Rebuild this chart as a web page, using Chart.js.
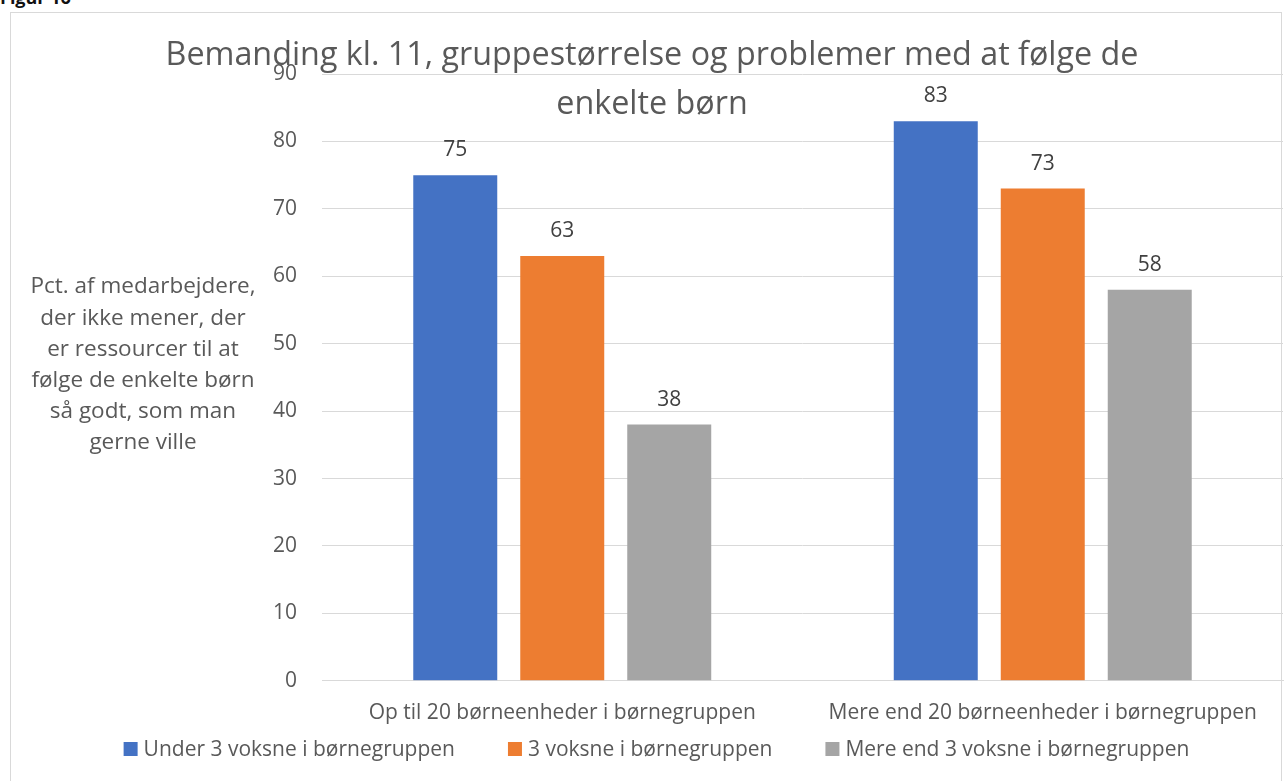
<!DOCTYPE html>
<html lang="da">
<head>
<meta charset="utf-8">
<title>Figur 16</title>
<script src="https://cdn.jsdelivr.net/npm/chart.js@4"></script>
<style>
  html, body { margin: 0; padding: 0; background: #fff; overflow: hidden; }
  body { width: 1285px; height: 781px; position: relative; font-family: "Open Sans", sans-serif; }
  #fig-label { position: absolute; left: 0; top: -15px; font: bold 18px "Open Sans", sans-serif; color: #111; }
  #frame { position: absolute; left: 10px; top: 12px; width: 1272px; height: 790px; border: 1px solid #d9d9d9; box-sizing: border-box; }
  #chart { position: absolute; left: 0; top: 0; }
</style>
</head>
<body>
<div id="fig-label">Figur 16</div>
<div id="frame"></div>
<canvas id="chart" width="1285" height="781"></canvas>
<script>
// Data
const categories = ['Op til 20 børneenheder i børnegruppen', 'Mere end 20 børneenheder i børnegruppen'];
const seriesNames = ['Under 3 voksne i børnegruppen', '3 voksne i børnegruppen', 'Mere end 3 voksne i børnegruppen'];
const under3 = [75, 83];
const exactly3 = [63, 73];
const over3 = [38, 58];
const seriesColors = ['#4472c4', '#ed7d31', '#a5a5a5'];
const titleLines = ['Bemanding kl. 11, gruppestørrelse og problemer med at følge de', 'enkelte børn'];
const yTitleLines = ['Pct. af medarbejdere,', 'der ikke mener, der', 'er ressourcer til at', 'følge de enkelte børn', 'så godt, som man', 'gerne ville'];

const textColor = '#595959';
const fontFamily = '"Open Sans", sans-serif';
const smallFont = '21px ' + fontFamily;

// Labels above each bar
const barLabels = {
    id: 'barLabels',
    afterDatasetsDraw(chart) {
        const c = chart.ctx;
        c.save();
        c.font = smallFont;
        c.fillStyle = '#404040';
        c.textAlign = 'center';
        c.textBaseline = 'middle';
        chart.data.datasets.forEach((ds, i) => {
            chart.getDatasetMeta(i).data.forEach((bar, j) => {
                c.fillText(ds.data[j], bar.x, bar.y - 25);
            });
        });
        c.restore();
    }
};

// Title, horizontal y-axis title and the legend row, placed like the original
const extraText = {
    id: 'extraText',
    afterDraw(chart) {
        const c = chart.ctx;
        c.save();
        c.fillStyle = textColor;
        c.textAlign = 'center';
        c.textBaseline = 'middle';
        c.font = '32.3px ' + fontFamily;
        titleLines.forEach((t, i) => c.fillText(t, 652, 56 + i * 49));
        c.font = '22.5px ' + fontFamily;
        yTitleLines.forEach((t, i) => c.fillText(t, 143, 287 + i * 31.2));

        // legend
        c.font = smallFont;
        c.textAlign = 'left';
        const box = 14, gapText = 6, gapItem = 53;
        const widths = seriesNames.map(n => box + gapText + c.measureText(n).width);
        const total = widths.reduce((a, b) => a + b, 0) + gapItem * (widths.length - 1);
        let x = 656.5 - total / 2;
        const y = 749;
        seriesNames.forEach((n, i) => {
            c.fillStyle = seriesColors[i];
            c.fillRect(x, y - box / 2, box, box);
            c.fillStyle = textColor;
            c.fillText(n, x + box + gapText, y + 1);
            x += widths[i] + gapItem;
        });
        c.restore();
    }
};

const ctx = document.getElementById('chart').getContext('2d');
const datasets = [under3, exactly3, over3].map((vals, i) => ({
    label: seriesNames[i],
    data: vals,
    backgroundColor: seriesColors[i],
    borderWidth: 0,
    categoryPercentage: 0.668,
    barPercentage: 0.785
}));

new Chart(ctx, {
    type: 'bar',
    data: { labels: categories, datasets: datasets },
    options: {
        responsive: false,
        animation: false,
        layout: { padding: { left: 262, right: 2, top: 74, bottom: 43 } },
        scales: {
            x: {
                grid: { display: false },
                border: { color: '#d9d9d9' },
                ticks: { color: textColor, font: { family: fontFamily, size: 21 }, padding: 12 }
            },
            y: {
                min: 0,
                max: 90,
                afterFit: (s) => { s.width = 60; },
                grid: { color: '#d9d9d9', drawTicks: false },
                border: { display: false },
                ticks: { stepSize: 10, color: textColor, font: { family: fontFamily, size: 21 }, padding: 25 }
            }
        },
        plugins: {
            legend: { display: false },
            tooltip: { enabled: false }
        }
    },
    plugins: [barLabels, extraText]
});
</script>
</body>
</html>
